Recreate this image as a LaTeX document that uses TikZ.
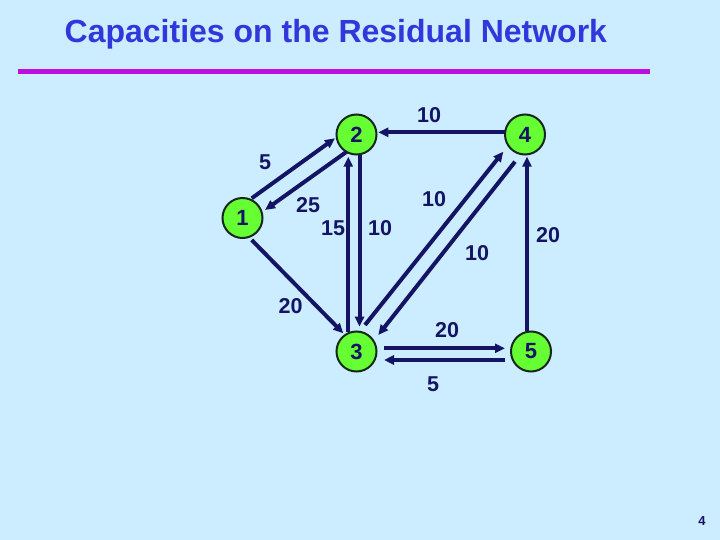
\documentclass[tikz,border=0pt]{standalone}
\usepackage{fontspec}
\setmainfont{Liberation Sans}
\usetikzlibrary{arrows.meta,calc}
\definecolor{bgcol}{RGB}{204,236,255}
\definecolor{titlecol}{RGB}{50,55,220}
\definecolor{rulecol}{RGB}{185,15,225}
\definecolor{edgecol}{RGB}{20,20,100}
\definecolor{nodegreen}{RGB}{102,255,51}
\definecolor{nodeborder}{RGB}{20,40,30}
\begin{document}
\begin{tikzpicture}[x=1pt,y=-1pt,
  vertex/.style={circle, draw=nodeborder, line width=2pt, fill=nodegreen,
    minimum size=40pt, inner sep=0pt,
    font=\fontsize{22}{22}\selectfont\bfseries, text=edgecol},
  edge/.style={draw=edgecol, line width=4pt,
    -{Triangle[length=10pt,width=9pt]}},
  lbl/.style={font=\fontsize{21.5}{21.5}\selectfont\bfseries, text=edgecol, inner sep=0pt}]
\fill[bgcol] (0,0) rectangle (720,540);
\useasboundingbox (0,0) rectangle (720,540);

% title and rule
\node[anchor=base west, inner sep=0pt, text=titlecol,
  font=\fontsize{32}{32}\selectfont\bfseries] (title) at (64.5,43)
  {Capacities on the Residual Network};
\coordinate (ruleL) at (18,72);
\coordinate (ruleR) at (650,72);
\draw[rulecol, line width=5pt] (ruleL) -- (ruleR);

% nodes
\node[vertex] (n1) at (242.5,218) {1};
\node[vertex] (n2) at (356.5,134.5) {2};
\node[vertex] (n4) at (525,134.5) {4};
\node[vertex] (n3) at (356.5,351.5) {3};
\node[vertex] (n5) at (531,351.5) {5};

% edges
\draw[edge] ($(n1)+(9.2,-19.7)$) -- ($(n2)+(-21.5,3.8)$);
\draw[edge] ($(n2)+(-9.8,17.2)$) -- ($(n1)+(22.5,-8)$);
\draw[edge] ($(n3)+(-8.2,-19.5)$) -- ($(n2)+(-8.2,22.2)$);
\draw[edge] ($(n2)+(3,20.8)$) -- ($(n3)+(3,-24.8)$);
\draw[edge] ($(n4)+(-20,-2.2)$) -- ($(n2)+(21.8,-2.2)$);
\draw[edge] ($(n3)+(8.5,-26.5)$) -- ($(n4)+(-21.7,17.2)$);
\draw[edge] ($(n4)+(-10,27.2)$) -- ($(n3)+(21.8,-16.5)$);
\draw[edge] ($(n1)+(9.2,22)$) -- ($(n3)+(-13.2,-18.2)$);
\draw[edge] ($(n5)+(-4,-20.6)$) -- ($(n4)+(2,22.2)$);
\draw[edge] ($(n3)+(27.5,-3.2)$) -- ($(n5)+(-26,-3.2)$);
\draw[edge] ($(n5)+(-26,8.5)$) -- ($(n3)+(27.5,8.5)$);

% labels
\node[lbl] (l42) at (429,115) {10};
\node[lbl] (l12) at (265,162.5) {5};
\node[lbl] (l21) at (308,205) {25};
\node[lbl] (l32) at (333,228.5) {15};
\node[lbl] (l23) at (380,228.5) {10};
\node[lbl] (l34) at (434,199) {10};
\node[lbl] (l43) at (477,253) {10};
\node[lbl] (l54) at (548,235) {20};
\node[lbl] (l13) at (290.5,306) {20};
\node[lbl] (l35) at (447,330) {20};
\node[lbl] (l53) at (433,384.5) {5};

% page number
\node[font=\fontsize{13}{13}\selectfont\bfseries, text=edgecol, inner sep=0pt] (pg) at (702,521) {4};
\end{tikzpicture}
\end{document}
